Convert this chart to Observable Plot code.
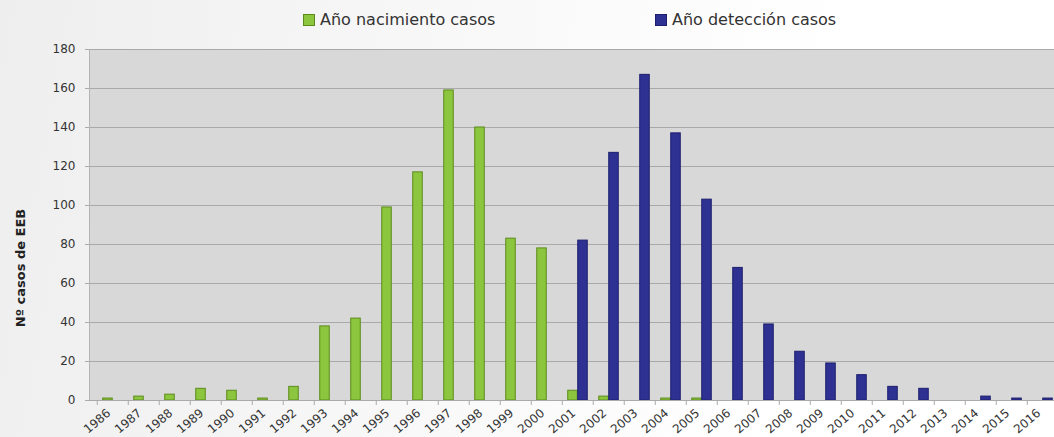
<!DOCTYPE html>
<html><head><meta charset="utf-8">
<script src="https://cdn.jsdelivr.net/npm/d3@7"></script>
<script src="https://cdn.jsdelivr.net/npm/@observablehq/plot@0.6"></script>
<style>
body{margin:0;background:#fff;font-family:"DejaVu Sans",sans-serif;}
#wrap{position:relative;width:1054px;height:437px;overflow:hidden;background:linear-gradient(100deg,#eeeeee 0%,#f8f8f8 40%,#ffffff 75%);}
#legend{position:relative;height:40px;}
.item{position:absolute;top:10px;font-size:16px;color:#333;display:flex;align-items:center;white-space:nowrap;}
.sw{width:12px;height:12px;margin-right:5px;box-sizing:border-box;}
</style></head><body>
<div id="wrap"><div id="legend"></div><div id="chart"></div></div>
<script>
const years = ["1986","1987","1988","1989","1990","1991","1992","1993","1994","1995","1996","1997","1998","1999","2000","2001","2002","2003","2004","2005","2006","2007","2008","2009","2010","2011","2012","2013","2014","2015","2016"];
const nacimiento = [1,2,3,6,5,1,7,38,42,99,117,159,140,83,78,5,2,0,1,1,0,0,0,0,0,0,0,0,0,0,0];
const deteccion  = [0,0,0,0,0,0,0,0,0,0,0,0,0,0,0,82,127,167,137,103,68,39,25,19,13,7,6,0,2,1,1];
const yTicks = [0,20,40,60,80,100,120,140,160,180];
const seriesNames = ["Año nacimiento casos","Año detección casos"];
const colors = ["#8cc63e","#2e3192"];
const strokes = ["#5d8a1c","#1c1f6e"];

const legend = document.getElementById("legend");
[303,655].forEach((left,i)=>{
  const it = document.createElement("div");
  it.className="item"; it.style.left=left+"px";
  it.innerHTML = `<span class="sw" style="background:${colors[i]};border:1px solid ${strokes[i]}"></span><span>${seriesNames[i]}</span>`;
  legend.appendChild(it);
});

const data = years.map((y,i)=>({year:y, nac:nacimiento[i], det:deteccion[i]}));
const W = 1054, ML = 89, MR = -11;
const bw = (W - MR - ML) / years.length;

const chart = Plot.plot({
  width: W, height: 397,
  marginTop: 9, marginBottom: 37, marginLeft: ML, marginRight: MR,
  x: {domain: years, padding: 0, label: null},
  y: {domain: [0,180], label: null},
  style: {background: "transparent", fontFamily: "DejaVu Sans", fontSize: "12px", color: "#333", overflow: "hidden"},
  marks: [
    Plot.frame({fill: "#d8d8d8", stroke: null}),
    Plot.gridY(yTicks, {stroke: "#a9a9a9", strokeOpacity: 1}),
    Plot.frame({anchor: "left", stroke: "#b4b4b4"}),
    Plot.barY(data.filter(d=>d.nac>0), {x: "year", y: "nac", fill: colors[0], stroke: strokes[0], strokeWidth: 1, insetLeft: bw/2 - 10, insetRight: bw/2}),
    Plot.barY(data.filter(d=>d.det>0), {x: "year", y: "det", fill: colors[1], stroke: strokes[1], strokeWidth: 1, insetLeft: bw/2, insetRight: bw/2 - 10}),
    Plot.ruleY([0], {stroke: "#aaaaaa"}),
    Plot.axisY({ticks: yTicks, tickSize: 4, tickPadding: 10, stroke: "#aaaaaa", label: null, fontSize: 12}),
    Plot.axisX({tickSize: 5, tickFormat: () => "", dx: -bw/2, stroke: "#aaaaaa", label: null}),
    Plot.axisX({tickSize: 0, tickPadding: 11, tickRotate: -40, dx: -4, label: null, fontSize: 12}),
    Plot.text(["Nº casos de EEB"], {frameAnchor: "left", textAnchor: "middle", rotate: -90, dx: -69, dy: 43, fontWeight: "bold", fontSize: 13, fill: "#222"})
  ]
});
document.getElementById("chart").appendChild(chart);
</script>
</body></html>
